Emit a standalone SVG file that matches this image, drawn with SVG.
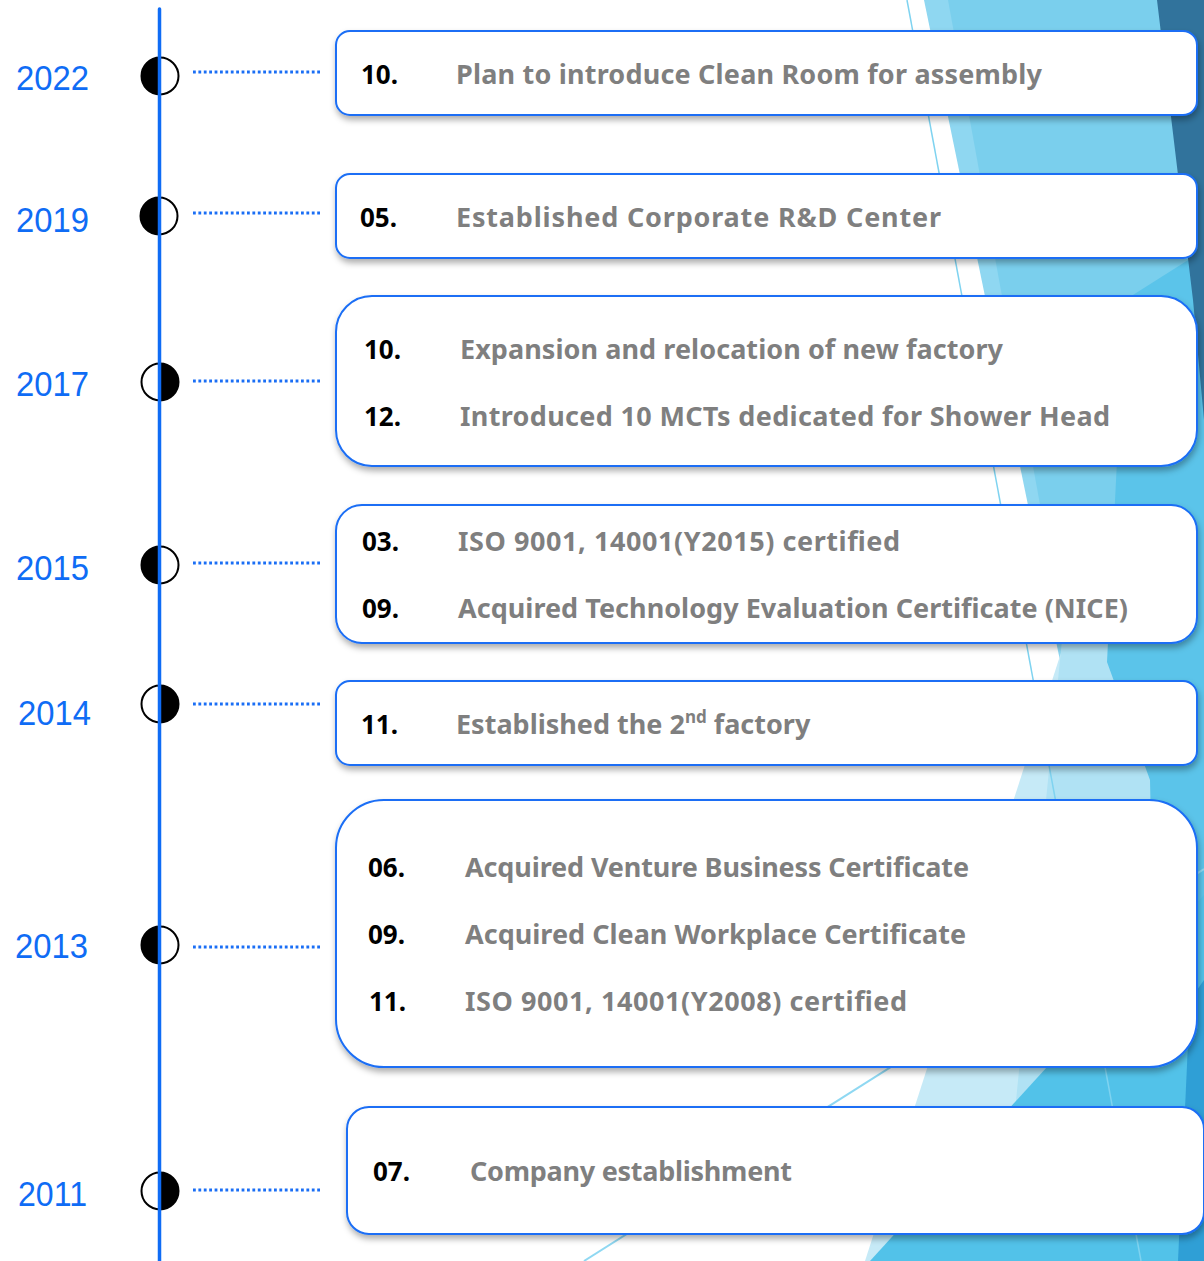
<svg xmlns="http://www.w3.org/2000/svg" width="1204" height="1261" viewBox="0 0 1204 1261">
<defs>
<filter id="sh" x="-5%" y="-20%" width="110%" height="150%">
<feDropShadow dx="1" dy="4" stdDeviation="3" flood-color="#000" flood-opacity="0.32"/>
</filter>
<style>
.box{fill:#fff;stroke:#1a6ef5;stroke-width:2;filter:url(#sh)}
.yr{font-family:"Liberation Sans",Arial,sans-serif;font-size:35px;fill:#0f6cf5}
.num{font-family:"Noto Sans","Open Sans",sans-serif;font-weight:bold;font-size:26px;fill:#000}
.desc{font-family:"Noto Sans","Open Sans",sans-serif;font-weight:bold;font-size:27px;fill:#7f7f7f}
.ring{fill:#fff;stroke:#000;stroke-width:2}
.half{fill:#000}
.dot{stroke:#1a6ef5;stroke-width:3;stroke-dasharray:2.8 2.6;fill:none}
.tl{stroke:#0f6cf5;stroke-width:3.5;stroke-linecap:round;fill:none}
</style>
</defs>
<rect width="1204" height="1261" fill="#fff"/>
<g id="background">
<polygon points="924,0 1204,0 1204,680 1064,680" fill="#8fd7f1"/>
<polygon points="948,0 1204,0 1204,680 1072,680" fill="#7acfed"/>
<polygon points="1078,600 1204,600 1204,1261 865,1261" fill="#c6eaf7"/>
<polygon points="1062,640 1204,640 1204,1261 1000,1261" fill="#b0e2f4"/>
<polygon points="1125,300 1204,250 1204,1261 1160,1261 1150,780 1107,662" fill="#5bc4ea"/>
<polygon points="1204,895 1204,1261 870,1261" fill="#52c2e9"/>
<polygon points="1157,0 1204,0 1204,420 1193,300" fill="#31739c"/>
<polygon points="1190,1000 1204,980 1204,1261 1178,1261" fill="#2f9fd6"/>
<line x1="907" y1="0" x2="1141" y2="1261" stroke="#7fd3f0" stroke-width="1.5"/>
<line x1="1204" y1="869" x2="584" y2="1261" stroke="#8fd8f2" stroke-width="2"/>
</g>
<g id="connectors">
<line class="dot" x1="193" y1="72" x2="321" y2="72"/>
<line class="dot" x1="193" y1="213" x2="321" y2="213"/>
<line class="dot" x1="193" y1="381" x2="321" y2="381"/>
<line class="dot" x1="193" y1="563" x2="321" y2="563"/>
<line class="dot" x1="193" y1="704" x2="321" y2="704"/>
<line class="dot" x1="193" y1="947" x2="321" y2="947"/>
<line class="dot" x1="193" y1="1190" x2="321" y2="1190"/>
</g>
<g id="y2022">
<text class="yr" x="16" y="90" textLength="73" lengthAdjust="spacingAndGlyphs">2022</text>
<circle class="ring" cx="160" cy="76" r="18.5"/>
<path class="half" d="M160,57.5 A18.5,18.5 0 0 0 160,94.5 Z"/>
<rect class="box" x="336" y="31" width="861" height="84" rx="14"/>
<text class="num" x="361" y="84">10.</text>
<text class="desc" x="456" y="84" textLength="586">Plan to introduce Clean Room for assembly</text>
</g>
<g id="y2019">
<text class="yr" x="16" y="232" textLength="73" lengthAdjust="spacingAndGlyphs">2019</text>
<circle class="ring" cx="159" cy="216" r="18.5"/>
<path class="half" d="M159,197.5 A18.5,18.5 0 0 0 159,234.5 Z"/>
<rect class="box" x="336" y="174" width="861" height="84" rx="14"/>
<text class="num" x="360" y="227">05.</text>
<text class="desc" x="456" y="227" textLength="485">Established Corporate R&amp;D Center</text>
</g>
<g id="y2017">
<text class="yr" x="16" y="396" textLength="73" lengthAdjust="spacingAndGlyphs">2017</text>
<circle class="ring" cx="160" cy="382" r="18.5"/>
<path class="half" d="M160,363.5 A18.5,18.5 0 0 1 160,400.5 Z"/>
<rect class="box" x="336" y="296" width="861" height="170" rx="36"/>
<text class="num" x="364" y="359">10.</text>
<text class="desc" x="460" y="359" textLength="543">Expansion and relocation of new factory</text>
<text class="num" x="364" y="426">12.</text>
<text class="desc" x="460" y="426" textLength="650">Introduced 10 MCTs dedicated for Shower Head</text>
</g>
<g id="y2015">
<text class="yr" x="16" y="580" textLength="73" lengthAdjust="spacingAndGlyphs">2015</text>
<circle class="ring" cx="160" cy="565" r="18.5"/>
<path class="half" d="M160,546.5 A18.5,18.5 0 0 0 160,583.5 Z"/>
<rect class="box" x="336" y="505" width="861" height="138" rx="26"/>
<text class="num" x="362" y="551">03.</text>
<text class="desc" x="458" y="551" textLength="442">ISO 9001, 14001(Y2015) certified</text>
<text class="num" x="362" y="618">09.</text>
<text class="desc" x="458" y="618" textLength="670">Acquired Technology Evaluation Certificate (NICE)</text>
</g>
<g id="y2014">
<text class="yr" x="18" y="725" textLength="73" lengthAdjust="spacingAndGlyphs">2014</text>
<circle class="ring" cx="160" cy="704" r="18.5"/>
<path class="half" d="M160,685.5 A18.5,18.5 0 0 1 160,722.5 Z"/>
<rect class="box" x="336" y="681" width="861" height="84" rx="14"/>
<text class="num" x="361" y="734">11.</text>
<text class="desc" x="456" y="734">Established the 2<tspan font-size="17" dy="-11">nd</tspan><tspan dy="11"> factory</tspan></text>
</g>
<g id="y2013">
<text class="yr" x="15" y="958" textLength="73" lengthAdjust="spacingAndGlyphs">2013</text>
<circle class="ring" cx="160" cy="945" r="18.5"/>
<path class="half" d="M160,926.5 A18.5,18.5 0 0 0 160,963.5 Z"/>
<rect class="box" x="336" y="800" width="861" height="267" rx="48"/>
<text class="num" x="368" y="877">06.</text>
<text class="desc" x="465" y="877" textLength="504">Acquired Venture Business Certificate</text>
<text class="num" x="368" y="944">09.</text>
<text class="desc" x="465" y="944" textLength="501">Acquired Clean Workplace Certificate</text>
<text class="num" x="369" y="1011">11.</text>
<text class="desc" x="465" y="1011" textLength="442">ISO 9001, 14001(Y2008) certified</text>
</g>
<g id="y2011">
<text class="yr" x="18" y="1206" textLength="69" lengthAdjust="spacingAndGlyphs">2011</text>
<circle class="ring" cx="160" cy="1191" r="18.5"/>
<path class="half" d="M160,1172.5 A18.5,18.5 0 0 1 160,1209.5 Z"/>
<rect class="box" x="347" y="1107" width="857" height="127" rx="22"/>
<text class="num" x="373" y="1181">07.</text>
<text class="desc" x="470" y="1181" textLength="322">Company establishment</text>
</g>
<g id="timeline">
<line class="tl" x1="159.5" y1="9" x2="159.5" y2="1261"/>
</g>
</svg>
